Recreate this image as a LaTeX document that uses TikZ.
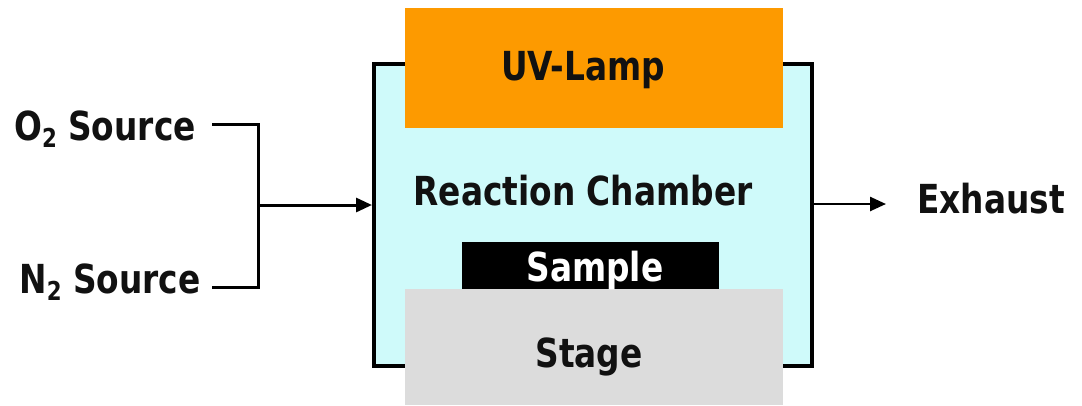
\documentclass[tikz,border=0pt]{standalone}
\usepackage{fontspec}
\newfontfamily\lblfont{DejaVu Sans Bold}[FakeStretch=0.82]
\usetikzlibrary{arrows.meta}
\definecolor{chamberfill}{HTML}{CFFAFA}
\definecolor{lampfill}{HTML}{FD9A00}
\definecolor{stagefill}{HTML}{DCDCDC}
\definecolor{txt}{HTML}{111111}
\tikzset{
  lbl/.style={font=\lblfont\fontsize{40}{40}\selectfont, text=txt, inner sep=0pt, anchor=base},
  blk/.style={draw=none, inner sep=0pt, anchor=north west},
  pipe/.style={line width=3pt, draw=black},
  flow/.style={pipe, -{Triangle[length=16pt,width=14pt]}},
  flowthin/.style={line width=2.5pt, -{Triangle[length=16pt,width=14pt]}},
}
\newcommand{\sub}[1]{\raisebox{-7pt}{\fontsize{26}{26}\selectfont #1}}
\begin{document}
\begin{tikzpicture}[x=1pt,y=-1pt]
\useasboundingbox (0,0) rectangle (1082,405);
% chamber
\node[blk, fill=chamberfill, draw=black, line width=3.5pt, minimum width=438pt, minimum height=302pt] (chamber) at (372,62) {};
% sample
\node[blk, fill=black, minimum width=257pt, minimum height=50pt] (sample) at (462,242) {};
% lamp and stage
\node[blk, fill=lampfill, minimum width=378pt, minimum height=120pt] (lamp) at (405,8) {};
\node[blk, fill=stagefill, minimum width=378pt, minimum height=116pt] (stage) at (405,289) {};
% labels
\node[lbl] (lamplbl) at (583,80) {UV-Lamp};
\node[lbl] (chlbl) at (583,205) {Reaction Chamber};
\node[lbl, text=white] (samplbl) at (595,281) {Sample};
\node[lbl] (stagelbl) at (589,367) {Stage};
\node[lbl] (o2) at (105,140) {O\sub{2} Source};
\node[lbl] (n2) at (110,293) {N\sub{2} Source};
\node[lbl, anchor=base west] (exh) at (917,213) {Exhaust};
% connectors
\coordinate (jn) at (258,205);
\draw[pipe] (212,124) -| (jn);
\draw[pipe] (212,287) -| (jn);
\draw[flow] (jn) -- (chamber.west |- jn);
\draw[flowthin] (chamber.east |- 0,204) -- (886,204);
\end{tikzpicture}
\end{document}
